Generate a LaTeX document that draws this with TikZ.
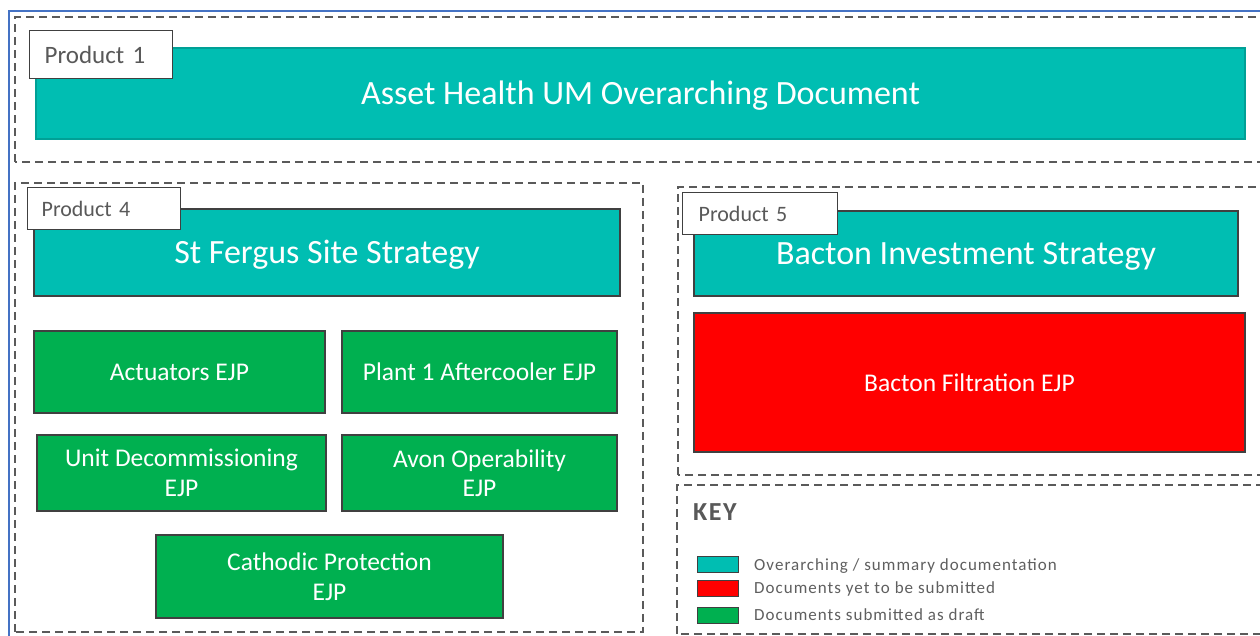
\documentclass[tikz,border=0pt]{standalone}
\usepackage{fontspec}
\setmainfont{Carlito}
\newfontfamily\keyfont[LetterSpace=6]{Carlito}
\usepackage{tikz}

\begin{document}
\begin{tikzpicture}[x=1pt,y=1pt,
  docbox/.style={draw=edgeColor,line width=1.1pt,text=white,align=center,inner sep=0pt,font=\fontsize{25.5}{29.5}\selectfont},
  headbox/.style={docbox,fill=tealColor,text height=22pt,text depth=0pt,font=\fontsize{34}{40}\selectfont},
  tagbox/.style={draw=edgeColor,line width=1.3pt,fill=white,text=labelColor,anchor=north west,align=left,inner ysep=0pt,font=\fontsize{22}{26}\selectfont},
  groupbox/.style={draw=dashColor,line width=1.2pt,dash pattern=on 8pt off 5pt},
  swatch/.style={draw=edgeColor,line width=0.8pt,minimum width=41pt,minimum height=16pt,inner sep=0pt},
  keytext/.style={text=keyColor,anchor=base west,inner sep=0pt,font=\keyfont\fontsize{17}{20}\selectfont}
]
\definecolor{fillColor}{RGB}{255,255,255}
\definecolor{frameColor}{RGB}{68,114,196}
\definecolor{dashColor}{RGB}{90,90,90}
\definecolor{edgeColor}{RGB}{64,64,64}
\definecolor{labelColor}{RGB}{89,89,89}
\definecolor{keyColor}{RGB}{95,95,95}
\definecolor{tealColor}{RGB}{0,190,178}
\definecolor{tealEdge}{RGB}{0,160,150}
\definecolor{greenColor}{RGB}{0,176,80}
\definecolor{redColor}{RGB}{255,0,0}
\path[use as bounding box,fill=fillColor] (0,0) rectangle (1260,636);
\begin{scope}
\path[clip] (  0.00,  0.00) rectangle (1260.00,636.00);

% outer frame and dashed groups
\path[draw=frameColor,line width=1.5pt] (9,-10) rectangle (1270,625);
\path[groupbox] ( 15,474) rectangle (1275,619);
\path[groupbox] ( 15,  4) rectangle ( 643,453);
\path[groupbox] (678,161) rectangle (1275,449);
\path[groupbox] (677,  2) rectangle (1275,151);

% Product 1
\node[headbox,draw=tealEdge,minimum width=1209pt,minimum height=91pt] (overarch) at (640.5,542.5) {Asset Health UM Overarching Document};
\node[tagbox,font=\fontsize{25}{29}\selectfont,text width=113pt,inner xsep=15pt,minimum height=48pt] (prod1) at (29,606) {Product 1};

% Product 4
\node[headbox,minimum width=586pt,minimum height=87pt] (fergus) at (327,383.5) {St Fergus Site Strategy};
\node[tagbox,text width=125pt,inner xsep=14pt,minimum height=42pt] (prod4) at (27,449) {Product 4};
\node[docbox,fill=greenColor,minimum width=291pt,minimum height=82pt] (actuators) at (179.5,264) {Actuators EJP};
\node[docbox,fill=greenColor,minimum width=275pt,minimum height=82pt] (aftercooler) at (479.5,264) {Plant 1 Aftercooler EJP};
\node[docbox,fill=greenColor,minimum width=289pt,minimum height=76pt] (decom) at (181.5,163) {Unit Decommissioning\\EJP};
\node[docbox,fill=greenColor,minimum width=275pt,minimum height=76pt] (avon) at (479.5,163) {Avon Operability\\EJP};
\node[docbox,fill=greenColor,minimum width=347pt,minimum height=83pt] (cathodic) at (329.5,59.5) {Cathodic Protection\\EJP};

% Product 5
\node[headbox,minimum width=544pt,minimum height=85pt] (bacton) at (966,382.5) {Bacton Investment Strategy};
\node[tagbox,text width=123pt,inner xsep=16pt,minimum height=42pt] (prod5) at (682,444) {Product 5};
\node[docbox,fill=redColor,minimum width=551pt,minimum height=139pt] (filtration) at (969.5,253.5) {Bacton Filtration EJP};

% key
\node[text=labelColor,anchor=base west,inner sep=0pt,font=\keyfont\bfseries\fontsize{26}{30}\selectfont] (keyhead) at (693,115) {KEY};
\node[swatch,fill=tealColor] (keyteal) at (717.5,71.5) {};
\node[swatch,fill=redColor] (keyred) at (717.5,48) {};
\node[swatch,fill=greenColor] (keygreen) at (717.5,21) {};
\node[keytext] (keytealtext) at (754,65) {Overarching / summary documentation};
\node[keytext] (keyredtext) at (754,42) {Documents yet to be submitted};
\node[keytext] (keygreentext) at (754,15) {Documents submitted as draft};
\end{scope}
\end{tikzpicture}
\end{document}
